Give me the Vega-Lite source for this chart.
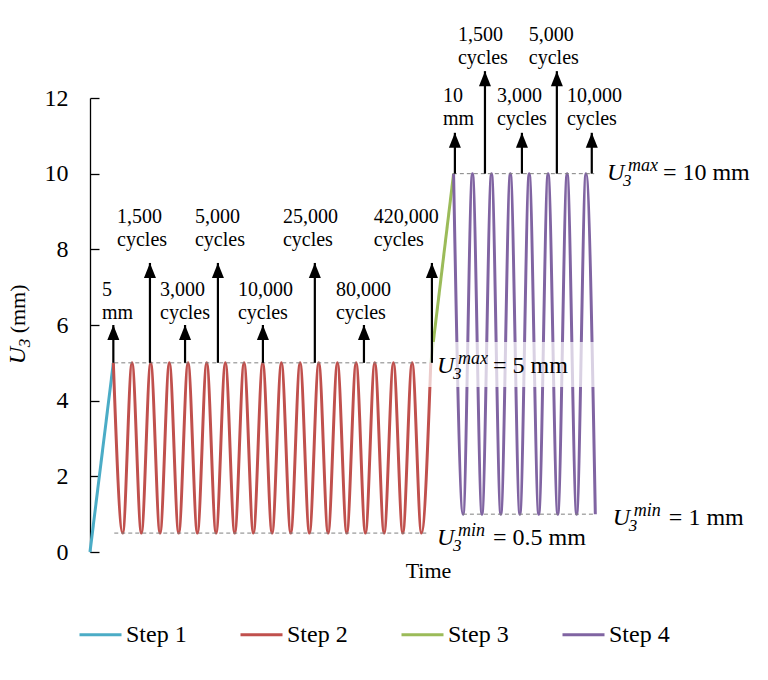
{
  "$schema": "https://vega.github.io/schema/vega-lite/v6.json",
  "width": 676,
  "height": 454,
  "autosize": {"type": "none"},
  "padding": {"left": 90, "top": 98, "right": 2, "bottom": 128},
  "background": "white",
  "config": {
    "view": {"stroke": null},
    "font": "Liberation Serif",
    "text": {"font": "Liberation Serif", "color": "black"},
    "axisY": {
      "domainColor": "black",
      "domainWidth": 1.3,
      "tickColor": "black",
      "tickWidth": 1.3,
      "tickSize": -9,
      "labelPadding": 31,
      "labelFont": "Liberation Serif",
      "labelFontSize": 24,
      "labelColor": "black",
      "grid": false
    },
    "axisX": {
      "domain": false,
      "ticks": false,
      "labels": false,
      "grid": false,
      "titleFont": "Liberation Serif",
      "titleFontSize": 22,
      "titleFontWeight": "normal",
      "titleColor": "black",
      "titlePadding": 8
    },
    "legend": {
      "orient": "none",
      "legendX": -12,
      "legendY": 514,
      "direction": "horizontal",
      "columns": 4,
      "columnPadding": 47,
      "padding": 0,
      "symbolType": "stroke",
      "symbolSize": 1764,
      "symbolStrokeWidth": 3,
      "labelFont": "Liberation Serif",
      "labelFontSize": 24,
      "labelColor": "black",
      "labelOffset": 3
    }
  },
  "datasets": {
    "series": [
      {"step": "Step 1", "t": 0, "u": 0},
      {"step": "Step 1", "t": 1.25, "u": 5},
      {"step": "Step 2", "t": 1.25, "u": 5},
      {"step": "Step 2", "t": 1.75, "u": 0.5},
      {"step": "Step 2", "t": 2.25, "u": 5},
      {"step": "Step 2", "t": 2.75, "u": 0.5},
      {"step": "Step 2", "t": 3.25, "u": 5},
      {"step": "Step 2", "t": 3.75, "u": 0.5},
      {"step": "Step 2", "t": 4.25, "u": 5},
      {"step": "Step 2", "t": 4.75, "u": 0.5},
      {"step": "Step 2", "t": 5.25, "u": 5},
      {"step": "Step 2", "t": 5.75, "u": 0.5},
      {"step": "Step 2", "t": 6.25, "u": 5},
      {"step": "Step 2", "t": 6.75, "u": 0.5},
      {"step": "Step 2", "t": 7.25, "u": 5},
      {"step": "Step 2", "t": 7.75, "u": 0.5},
      {"step": "Step 2", "t": 8.25, "u": 5},
      {"step": "Step 2", "t": 8.75, "u": 0.5},
      {"step": "Step 2", "t": 9.25, "u": 5},
      {"step": "Step 2", "t": 9.75, "u": 0.5},
      {"step": "Step 2", "t": 10.25, "u": 5},
      {"step": "Step 2", "t": 10.75, "u": 0.5},
      {"step": "Step 2", "t": 11.25, "u": 5},
      {"step": "Step 2", "t": 11.75, "u": 0.5},
      {"step": "Step 2", "t": 12.25, "u": 5},
      {"step": "Step 2", "t": 12.75, "u": 0.5},
      {"step": "Step 2", "t": 13.25, "u": 5},
      {"step": "Step 2", "t": 13.75, "u": 0.5},
      {"step": "Step 2", "t": 14.25, "u": 5},
      {"step": "Step 2", "t": 14.75, "u": 0.5},
      {"step": "Step 2", "t": 15.25, "u": 5},
      {"step": "Step 2", "t": 15.75, "u": 0.5},
      {"step": "Step 2", "t": 16.25, "u": 5},
      {"step": "Step 2", "t": 16.75, "u": 0.5},
      {"step": "Step 2", "t": 17.25, "u": 5},
      {"step": "Step 2", "t": 17.75, "u": 0.5},
      {"step": "Step 2", "t": 18.25, "u": 5},
      {"step": "Step 3", "t": 18.25, "u": 5},
      {"step": "Step 3", "t": 19.47, "u": 10},
      {"step": "Step 4", "t": 19.47, "u": 10},
      {"step": "Step 4", "t": 19.98, "u": 1},
      {"step": "Step 4", "t": 20.48, "u": 10},
      {"step": "Step 4", "t": 20.99, "u": 1},
      {"step": "Step 4", "t": 21.5, "u": 10},
      {"step": "Step 4", "t": 22.0, "u": 1},
      {"step": "Step 4", "t": 22.51, "u": 10},
      {"step": "Step 4", "t": 23.02, "u": 1},
      {"step": "Step 4", "t": 23.52, "u": 10},
      {"step": "Step 4", "t": 24.03, "u": 1},
      {"step": "Step 4", "t": 24.53, "u": 10},
      {"step": "Step 4", "t": 25.05, "u": 1},
      {"step": "Step 4", "t": 25.55, "u": 10},
      {"step": "Step 4", "t": 26.06, "u": 1},
      {"step": "Step 4", "t": 26.56, "u": 10},
      {"step": "Step 4", "t": 27.06, "u": 1}
    ],
    "limits": [
      {"t0": 1.3, "t1": 18.2, "u": 5},
      {"t0": 1.3, "t1": 18.1, "u": 0.5},
      {"t0": 19.43, "t1": 27.0, "u": 10},
      {"t0": 19.97, "t1": 27.0, "u": 1}
    ],
    "box": [
      {"t0": 18.1, "t1": 27.1, "u0": 4.36, "u1": 5.55}
    ],
    "arrows": [
      {"t": 1.25, "base": 5, "tip": 6.0},
      {"t": 3.21, "base": 5, "tip": 7.64},
      {"t": 5.09, "base": 5, "tip": 6.0},
      {"t": 6.85, "base": 5, "tip": 7.64},
      {"t": 9.26, "base": 5, "tip": 6.0},
      {"t": 12.04, "base": 5, "tip": 7.64},
      {"t": 14.67, "base": 5, "tip": 6.0},
      {"t": 18.31, "base": 5, "tip": 7.64},
      {"t": 19.54, "base": 10, "tip": 11.08},
      {"t": 21.15, "base": 10, "tip": 12.71},
      {"t": 23.13, "base": 10, "tip": 11.08},
      {"t": 25.0, "base": 10, "tip": 12.71},
      {"t": 26.87, "base": 10, "tip": 11.08}
    ],
    "notes": [
      {"t": 0.64, "u": 6.92, "text": "5\nmm"},
      {"t": 1.45, "u": 8.86, "text": "1,500\ncycles"},
      {"t": 3.75, "u": 6.92, "text": "3,000\ncycles"},
      {"t": 5.62, "u": 8.86, "text": "5,000\ncycles"},
      {"t": 7.92, "u": 6.92, "text": "10,000\ncycles"},
      {"t": 10.33, "u": 8.86, "text": "25,000\ncycles"},
      {"t": 13.17, "u": 6.92, "text": "80,000\ncycles"},
      {"t": 15.2, "u": 8.86, "text": "420,000\ncycles"},
      {"t": 18.9, "u": 12.04, "text": "10\nmm"},
      {"t": 19.7, "u": 13.67, "text": "1,500\ncycles"},
      {"t": 21.79, "u": 12.04, "text": "3,000\ncycles"},
      {"t": 23.5, "u": 13.67, "text": "5,000\ncycles"},
      {"t": 25.54, "u": 12.04, "text": "10,000\ncycles"}
    ],
    "bounds": [
      {"t": 27.68, "u": 9.83, "sup": "max", "rest": "= 10 mm"},
      {"t": 18.58, "u": 4.73, "sup": "max", "rest": "= 5 mm"},
      {"t": 18.58, "u": 0.185, "sup": "min", "rest": "= 0.5 mm"},
      {"t": 28.0, "u": 0.71, "sup": "min", "rest": "= 1 mm"}
    ],
    "ytitle": [
      {"t": -3.48, "u": 4.96}
    ]
  },
  "layer": [
    {
      "data": {"name": "series"},
      "mark": {"type": "line", "strokeWidth": 3, "interpolate": "monotone"},
      "encoding": {
        "x": {"field": "t", "type": "quantitative", "title": "Time", "scale": {"domain": [0, 36.2], "nice": false, "zero": false}},
        "y": {
          "field": "u",
          "type": "quantitative",
          "title": null,
          "scale": {"domain": [0, 12], "nice": false},
          "axis": {"values": [0, 2, 4, 6, 8, 10, 12]}
        },
        "color": {
          "field": "step",
          "type": "nominal",
          "title": null,
          "scale": {"domain": ["Step 1", "Step 2", "Step 3", "Step 4"], "range": ["#4bacc6", "#c0504d", "#9bbb59", "#8064a2"]}
        }
      }
    },
    {
      "data": {"name": "limits"},
      "mark": {"type": "rule", "color": "#808080", "strokeWidth": 1, "strokeDash": [4, 3]},
      "encoding": {
        "x": {"field": "t0", "type": "quantitative", "title": "Time"},
        "x2": {"field": "t1"},
        "y": {"field": "u", "type": "quantitative", "title": null}
      }
    },
    {
      "data": {"name": "box"},
      "mark": {"type": "rect", "color": "white", "opacity": 0.7},
      "encoding": {
        "x": {"field": "t0", "type": "quantitative", "title": "Time"},
        "x2": {"field": "t1"},
        "y": {"field": "u0", "type": "quantitative", "title": null},
        "y2": {"field": "u1"}
      }
    },
    {
      "data": {"name": "arrows"},
      "mark": {"type": "rule", "color": "black", "strokeWidth": 2.2},
      "encoding": {
        "x": {"field": "t", "type": "quantitative", "title": "Time"},
        "y": {"field": "base", "type": "quantitative", "title": null},
        "y2": {"field": "tip"}
      }
    },
    {
      "data": {"name": "arrows"},
      "mark": {"type": "point", "shape": "M0,0L0.8,2L-0.8,2Z", "filled": true, "color": "black", "opacity": 1, "size": 225, "strokeWidth": 0},
      "encoding": {
        "x": {"field": "t", "type": "quantitative", "title": "Time"},
        "y": {"field": "tip", "type": "quantitative", "title": null}
      }
    },
    {
      "data": {"name": "notes"},
      "mark": {"type": "text", "align": "left", "baseline": "middle", "fontSize": 20, "lineBreak": "\n", "lineHeight": 23},
      "encoding": {
        "x": {"field": "t", "type": "quantitative", "title": "Time"},
        "y": {"field": "u", "type": "quantitative", "title": null},
        "text": {"field": "text"}
      }
    },
    {
      "data": {"name": "bounds"},
      "mark": {"type": "text", "align": "left", "baseline": "alphabetic", "fontSize": 24, "fontStyle": "italic"},
      "encoding": {
        "x": {"field": "t", "type": "quantitative", "title": "Time"},
        "y": {"field": "u", "type": "quantitative", "title": null},
        "text": {"value": "U"}
      }
    },
    {
      "data": {"name": "bounds"},
      "mark": {"type": "text", "align": "left", "baseline": "alphabetic", "fontSize": 17, "fontStyle": "italic", "dx": 16, "dy": 6},
      "encoding": {
        "x": {"field": "t", "type": "quantitative", "title": "Time"},
        "y": {"field": "u", "type": "quantitative", "title": null},
        "text": {"value": "3"}
      }
    },
    {
      "data": {"name": "bounds"},
      "mark": {"type": "text", "align": "left", "baseline": "alphabetic", "fontSize": 18, "fontStyle": "italic", "dx": 21, "dy": -9},
      "encoding": {
        "x": {"field": "t", "type": "quantitative", "title": "Time"},
        "y": {"field": "u", "type": "quantitative", "title": null},
        "text": {"field": "sup"}
      }
    },
    {
      "data": {"name": "bounds"},
      "mark": {"type": "text", "align": "left", "baseline": "alphabetic", "fontSize": 24, "dx": 56},
      "encoding": {
        "x": {"field": "t", "type": "quantitative", "title": "Time"},
        "y": {"field": "u", "type": "quantitative", "title": null},
        "text": {"field": "rest"}
      }
    },
    {
      "data": {"name": "ytitle"},
      "mark": {"type": "text", "align": "left", "baseline": "alphabetic", "fontSize": 24, "fontStyle": "italic", "angle": -90},
      "encoding": {
        "x": {"field": "t", "type": "quantitative", "title": "Time"},
        "y": {"field": "u", "type": "quantitative", "title": null},
        "text": {"value": "U"}
      }
    },
    {
      "data": {"name": "ytitle"},
      "mark": {"type": "text", "align": "left", "baseline": "alphabetic", "fontSize": 17, "fontStyle": "italic", "angle": -90, "dx": 17, "dy": 5},
      "encoding": {
        "x": {"field": "t", "type": "quantitative", "title": "Time"},
        "y": {"field": "u", "type": "quantitative", "title": null},
        "text": {"value": "3"}
      }
    },
    {
      "data": {"name": "ytitle"},
      "mark": {"type": "text", "align": "left", "baseline": "alphabetic", "fontSize": 22, "angle": -90, "dx": 31},
      "encoding": {
        "x": {"field": "t", "type": "quantitative", "title": "Time"},
        "y": {"field": "u", "type": "quantitative", "title": null},
        "text": {"value": "(mm)"}
      }
    }
  ]
}
